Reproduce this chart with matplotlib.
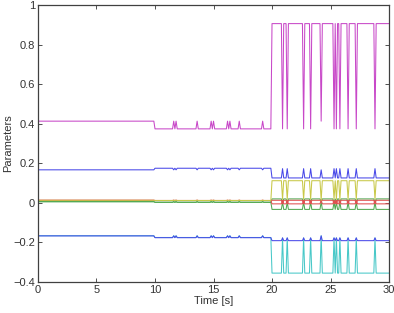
import numpy as np
import matplotlib
matplotlib.use("Agg")
import matplotlib.pyplot as plt

plt.rcParams['font.family'] = ['Liberation Sans', 'DejaVu Sans']

# ---- data ----
dt = 0.1
t_end = 30.0
seg_bounds = [10.0, 20.0]          # mode A -> B at 10 s, B -> C at 20 s
spikes_B = [11.6, 11.8, 13.6, 14.8, 15.0, 16.2, 16.4, 17.2, 19.2]   # brief returns to mode A
spikes_C = [20.9, 21.3, 22.7, 23.3, 25.3, 25.5, 25.8, 26.5, 27.2, 28.8]  # brief switches to mode D
spikes_C_to_A = [24.2]

# levels per mode: A (t<10), B (10..20), C (>20), D (spikes after 20)
series_names = ["blue_up", "green", "green2", "red", "red2", "cyan",
                "magenta", "yellow", "blue_low"]
levels = {
    "blue_up":  [0.167, 0.175, 0.126, 0.173],
    "green":    [0.006, 0.003, -0.033, 0.004],
    "green2":   [0.006, 0.003, 0.020, 0.004],
    "red":      [0.013, 0.012, -0.005, 0.013],
    "red2":     [0.013, 0.012, 0.013, -0.005],
    "cyan":     [-0.166, -0.175, -0.355, -0.177],
    "magenta":  [0.413, 0.374, 0.906, 0.374],
    "yellow":   [0.013, 0.012, 0.112, 0.018],
    "blue_low": [-0.167, -0.176, -0.191, -0.177],
}
colors = {
    "blue_up": "#4848e8",
    "green": "#50a850",
    "green2": "#50a850",
    "red": "#e05050",
    "red2": "#e05050",
    "cyan": "#48c8c8",
    "magenta": "#c848c8",
    "yellow": "#c8c848",
    "blue_low": "#4848e8",
}
xticks = [0, 5, 10, 15, 20, 25, 30]
yticks = [-0.4, -0.2, 0, 0.2, 0.4, 0.6, 0.8, 1]
ytick_labels = ["\u22120.4", "\u22120.2", "0", "0.2", "0.4", "0.6", "0.8", "1"]

# ---- build mode sequence ----
t = np.round(np.arange(0, t_end + dt / 2, dt), 1)
mode = np.zeros(len(t), dtype=int)
mode[t >= seg_bounds[0]] = 1
mode[t >= seg_bounds[1]] = 2
for s in spikes_B:
    mode[np.isclose(t, s)] = 0
for s in spikes_C:
    mode[np.isclose(t, s)] = 3
for s in spikes_C_to_A:
    mode[np.isclose(t, s)] = 0

fig = plt.figure(figsize=(3.94, 3.13), dpi=100)
ax = fig.add_axes([0.0964, 0.099, 0.891, 0.885])

for name in series_names:
    lv = np.array(levels[name])
    ax.plot(t, lv[mode], color=colors[name], lw=0.75)

ax.set_xlim(0, 30)
ax.set_ylim(-0.4, 1)
ax.set_xticks(xticks)
ax.set_yticks(yticks)
ax.set_yticklabels(ytick_labels)
ax.tick_params(direction='in', top=True, right=True, labelsize=8,
               length=3, width=0.6, colors='#333333', pad=2)
for sp in ax.spines.values():
    sp.set_color('#404040')
    sp.set_linewidth(0.9)
ax.set_xlabel("Time [s]", fontsize=8, labelpad=1, color='#333333')
ax.set_ylabel("Parameters", fontsize=8, labelpad=0, color='#333333')

fig.savefig("out.png", dpi=100)
